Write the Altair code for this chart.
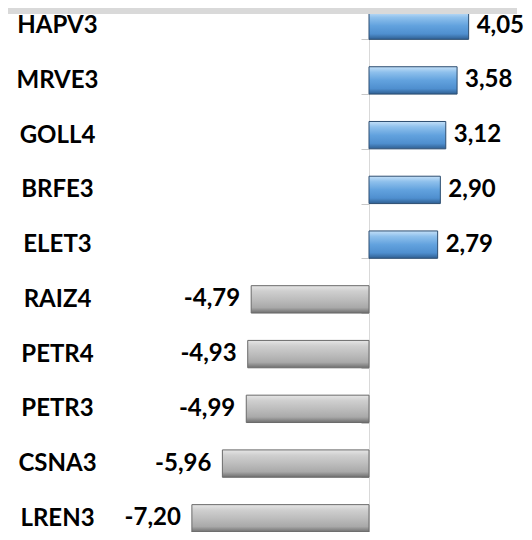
import altair as alt
import pandas as pd

tickers = ["HAPV3", "MRVE3", "GOLL4", "BRFE3", "ELET3", "RAIZ4", "PETR4", "PETR3", "CSNA3", "LREN3"]
values = [4.05, 3.58, 3.12, 2.90, 2.79, -4.79, -4.93, -4.99, -5.96, -7.20]
labels = ["4,05", "3,58", "3,12", "2,90", "2,79", "-4,79", "-4,93", "-4,99", "-5,96", "-7,20"]

df = pd.DataFrame({"ticker": tickers, "value": values, "label": labels})

FONT = "Lato"
FS = 24

blue_grad = alt.Gradient(
    gradient="linear", x1=1, x2=1, y1=0, y2=1,
    stops=[
        alt.GradientStop(color="#c4e0f8", offset=0),
        alt.GradientStop(color="#8ec0ec", offset=0.2),
        alt.GradientStop(color="#62a2de", offset=0.5),
        alt.GradientStop(color="#4f8fcf", offset=0.8),
        alt.GradientStop(color="#2f5f92", offset=1),
    ],
)
gray_grad = alt.Gradient(
    gradient="linear", x1=1, x2=1, y1=0, y2=1,
    stops=[
        alt.GradientStop(color="#e6e6e6", offset=0),
        alt.GradientStop(color="#cfcfcf", offset=0.2),
        alt.GradientStop(color="#bdbdbd", offset=0.5),
        alt.GradientStop(color="#a9a9a9", offset=0.8),
        alt.GradientStop(color="#6e6e6e", offset=1),
    ],
)

yscale = alt.Scale(domain=tickers, paddingInner=0.5, paddingOuter=0)
xscale = alt.Scale(domain=[-10, 6.3], nice=False)

y_enc = alt.Y(
    "ticker:N", sort=tickers, scale=yscale, title=None,
    axis=alt.Axis(
        orient="left", offset=-246, domain=True, domainColor="#d9d9d9",
        ticks=True, tickSize=8, tickColor="#c8c8c8", tickBand="extent", grid=False,
        labelAlign="center", labelBaseline="middle", labelPadding=304,
        labelFont=FONT, labelFontSize=FS, labelFontWeight="bold", labelColor="#000000",
    ),
)
x_enc = alt.X("value:Q", scale=xscale, axis=None)

base = alt.Chart(df)

header = base.transform_filter(alt.datum.ticker == "HAPV3").mark_rect(color="#d9d9d9").encode(
    x=alt.value(-115), x2=alt.value(394), y=alt.value(-4), y2=alt.value(2)
)

pos_bars = base.transform_filter(alt.datum.value > 0).mark_bar(
    color=blue_grad, stroke="#2c4d70", strokeWidth=1
).encode(x=x_enc, y=y_enc)

neg_bars = base.transform_filter(alt.datum.value < 0).mark_bar(
    color=gray_grad, stroke="#6a6a6a", strokeWidth=1
).encode(x=x_enc, y=y_enc)

pos_text = base.transform_filter(alt.datum.value > 0).mark_text(
    align="left", baseline="middle", dx=8, font=FONT, fontSize=FS, fontWeight="bold", color="#000000"
).encode(x=x_enc, y=y_enc, text="label:N")

neg_text = base.transform_filter(alt.datum.value < 0).mark_text(
    align="right", baseline="middle", dx=-11, font=FONT, fontSize=FS, fontWeight="bold", color="#000000"
).encode(x=x_enc, y=y_enc, text="label:N")

chart = alt.layer(pos_bars, neg_bars, pos_text, neg_text, header).properties(
    width=401, height=520,
    autosize=alt.AutoSizeParams(type="none"),
    padding={"left": 115, "top": 4, "right": 0, "bottom": 0},
).configure_view(stroke=None)

chart.save("out.html", embed_options={"renderer": "svg", "actions": False})
